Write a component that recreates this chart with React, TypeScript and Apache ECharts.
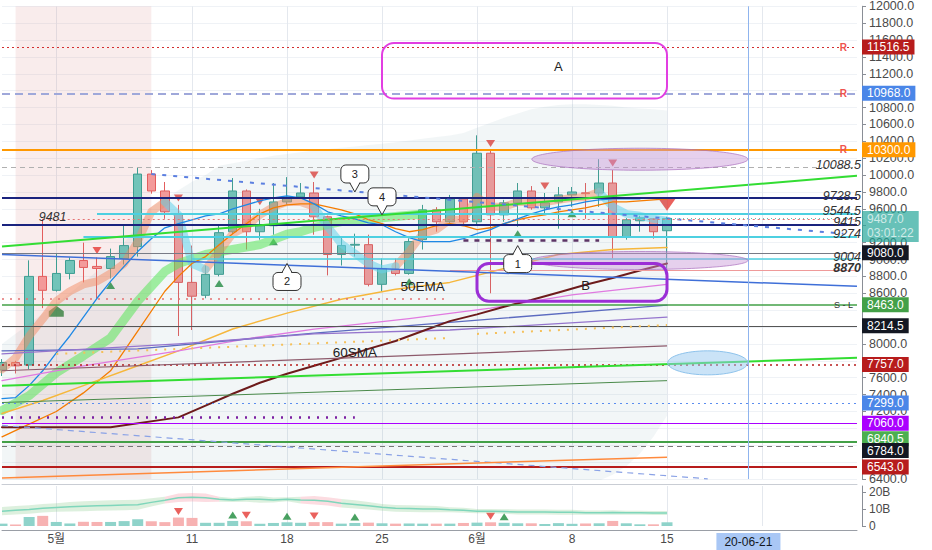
import React, { useEffect, useRef } from 'react';
import * as echarts from 'echarts';

// ---------------- data ----------------
const dayCount = 64; // 2020-04-27 .. 2020-06-29
function makeDates(): string[] {
  const out: string[] = [];
  const d = new Date(Date.UTC(2020, 3, 27));
  for (let i = 0; i < dayCount; i++) {
    out.push(d.toISOString().slice(0, 10));
    d.setUTCDate(d.getUTCDate() + 1);
  }
  return out;
}
const dates = makeDates();

const opens = [7690, 7780, 7750, 8800, 8635, 8835, 8988, 8918, 8894, 9012, 9153, 10012, 9812, 9541, 8729, 8576, 8824, 9329, 9812, 9329, 9400, 9682, 9741, 9788, 9506, 9059, 9170, 9176, 8706, 8882, 8835, 9235, 9588, 9447, 9718, 9447, 10259, 9529, 9671, 9812, 9612, 9682, 9765, 9790, 9788, 9906, 9271, 9459, 9482, 9341];
const closes = [7780, 7740, 8800, 8635, 8835, 8988, 8906, 8894, 9035, 9165, 10012, 9812, 9565, 8729, 8565, 8824, 9318, 9812, 9329, 9400, 9682, 9741, 9788, 9506, 9059, 9165, 9180, 8706, 8894, 8835, 9212, 9588, 9447, 9718, 9447, 10259, 9529, 9671, 9812, 9612, 9671, 9765, 9800, 9780, 9906, 9271, 9471, 9494, 9329, 9487];
const lows = [7620, 7650, 7700, 8424, 8620, 8765, 8729, 8529, 8776, 8941, 9035, 9780, 9482, 8094, 8165, 8541, 8800, 9300, 9118, 9235, 9294, 9650, 9720, 9294, 8812, 8929, 9035, 8682, 8624, 8812, 8820, 9118, 9329, 9430, 9420, 9420, 8600, 9447, 9388, 9590, 9529, 9365, 9624, 9482, 9624, 9012, 9235, 9329, 9247, 8894];
const highs = [7820, 7800, 8990, 9481, 9071, 9024, 9200, 9024, 9129, 9412, 10094, 10059, 9918, 9647, 9165, 8929, 9400, 9965, 9830, 9600, 9906, 9976, 9906, 9918, 9520, 9271, 9306, 9294, 9012, 9012, 9250, 9647, 9620, 9765, 9740, 10471, 10290, 9706, 9906, 9870, 9788, 9859, 9859, 9906, 10188, 10059, 9490, 9518, 9490, 9506];
const volumesB = [1.4, 0.9, 5.3, 6.0, 2.4, 1.5, 2.5, 2.4, 2.4, 2.9, 4.0, 2.8, 2.3, 5.0, 4.8, 1.9, 1.9, 3.0, 2.8, 1.3, 1.8, 2.2, 1.9, 2.3, 2.3, 1.4, 1.8, 2.0, 1.6, 1.4, 1.5, 1.4, 1.4, 1.4, 1.8, 2.0, 2.2, 1.9, 1.6, 1.6, 1.2, 1.7, 1.3, 1.5, 1.6, 3.0, 1.6, 1.0, 1.0, 2.2];

const volMA = [8.8, 9.3, 9.8, 10.5, 11, 11.4, 11.7, 12, 12.2, 12.4, 12.6, 14, 15.3, 16.7, 17, 16.7, 15.8, 15.4, 15.8, 15.8, 15.4, 15.8, 15.4, 15.3, 14.6, 13.5, 12.8, 12, 11.1, 10.5, 10.3, 10.1, 10, 9.6, 9.3, 8.8, 8.8, 8.6, 8.3, 8.3, 8.3, 8.1, 8.1, 7.9, 7.9, 8.0, 7.9, 7.9, 7.7, 7.7];
const volBandHalf = [2.5, 2.5, 2.5, 2.5, 2.5, 2.8, 3, 3, 3, 3, 3, 2.5, 2, 2.5, 2.5, 2.5, 1.5, 1.2, 1.5, 2, 1.5, 1.2, 2, 2.5, 2.5, 2.5, 2.5, 2.2, 2, 2, 2, 2, 1.8, 1.5, 1.5, 1.3, 1.3, 1.3, 1.5, 1.5, 1.5, 1.5, 1.5, 1.3, 1.3, 1.3, 1.2, 1.2, 1.2, 1.2];
const volPinkRanges = [[12, 16], [22, 25]];

const cloudUpper = [8000, 8120, 8240, 8360, 8480, 8600, 8730, 8860, 9000, 9200, 9400, 9620, 9720, 9820, 9920, 10000, 10110, 10140, 10170, 10200, 10230, 10250, 10270, 10290, 10310, 10325, 10340, 10355, 10370, 10390, 10410, 10430, 10450, 10470, 10500, 10560, 10620, 10680, 10730, 10780, 10810, 10830, 10840, 10840, 10830, 10820, 10800, 10790, 10780, 10765];
const cloudLower = [6000, 6000, 6000, 6000, 6000, 6000, 6000, 6000, 6000, 6000, 6000, 6000, 6000, 6000, 6000, 6000, 6000, 6000, 6000, 6000, 6000, 6000, 6000, 6000, 6000, 6000, 6000, 6000, 6000, 6000, 6000, 6000, 6000, 6000, 6000, 6000, 6000, 6000, 6000, 6000, 6000, 6000, 6000, 6000, 6380, 6450, 6550, 6700, 6900, 7150];

const fastRibbon = [7700, 7835, 8094, 8294, 8506, 8624, 8706, 8741, 8835, 8953, 9212, 9565, 9682, 9529, 8950, 8882, 9094, 9306, 9388, 9529, 9624, 9682, 9682, 9624, 9388, 9188, 9071, 8953, 8882, 8918, 9094, 9306, 9353, 9471, 9471, 9741, 9624, 9624, 9682, 9682, 9682, 9706, 9730, 9741, 9800, 9624, 9541, 9518, 9482, 9460];
const fastDownRanges = [[12, 15], [23, 29], [44, 49]];

const greenRibbon = [[0, 7212], [2, 7388], [4, 7659], [6, 7859], [8, 8071], [10, 8506], [11, 8682], [12, 8859], [13, 8953], [15, 9060], [17, 9120], [19, 9176], [21, 9300], [22, 9330], [23, 9380], [25, 9450], [27, 9480], [29, 9510], [31, 9540]];
const emaBlue = [[0, 7353], [1, 7365], [2, 7506], [3, 7682], [4, 7894], [5, 8094], [6, 8318], [7, 8541], [8, 8741], [9, 8918], [10, 9094], [11, 9247], [12, 9376], [13, 9424], [14, 9470], [15, 9518], [16, 9541], [17, 9600], [18, 9647], [19, 9694], [20, 9730], [21, 9753], [22, 9730], [23, 9659], [24, 9565], [25, 9518], [26, 9482], [27, 9435], [28, 9412], [29, 9329], [30, 9259], [31, 9212], [32, 9212], [33, 9212], [34, 9247], [35, 9306], [36, 9353], [37, 9424], [38, 9482], [39, 9541], [40, 9588], [41, 9624], [42, 9647], [43, 9682], [44, 9706], [45, 9718], [46, 9718], [47, 9718]];
const emaOrange = [[0, 6900], [2, 7050], [4, 7200], [6, 7420], [8, 7682], [10, 8153], [12, 8624], [13, 8800], [14, 8953], [15, 9035], [16, 9176], [17, 9306], [18, 9424], [19, 9541], [20, 9612], [21, 9647], [22, 9659], [23, 9659], [24, 9624], [25, 9588], [26, 9541], [27, 9471], [28, 9424], [29, 9365], [30, 9329], [31, 9353], [32, 9400], [33, 9424], [34, 9400], [35, 9353], [36, 9376], [37, 9424], [38, 9471], [39, 9506], [40, 9529], [41, 9565], [42, 9588], [43, 9612], [44, 9647], [45, 9682], [46, 9682], [47, 9694], [48, 9706], [49, 9718]];
const ema50 = [[0, 7176], [3, 7329], [6, 7506], [10, 7741], [13, 7918], [17, 8176], [21, 8365], [25, 8529], [29, 8647], [33, 8729], [37, 8894], [41, 9059], [45, 9118], [49, 9141]];
const maMagenta = [[0, 7565], [6, 7740], [13, 7918], [18, 8060], [23, 8176], [30, 8300], [36, 8424], [42, 8580], [49, 8706]];
const maBluePurple = [[0, 7918], [10, 7941], [23, 8129], [36, 8294], [49, 8459]];
const maViolet = [[0, 7882], [13, 8000], [23, 8118], [33, 8165], [49, 8318]];
const sma60 = [[0, 7012], [8, 7012], [13, 7130], [15, 7270], [17, 7410], [19, 7540], [21, 7647], [23, 7741], [25, 7835], [27, 7941], [29, 8035], [31, 8153], [33, 8270], [35, 8350], [37, 8440], [39, 8520], [41, 8610], [43, 8700], [45, 8780], [47, 8870], [49, 8953]];

const sellSignals = [7, 13, 19, 23, 36, 40, 45, 49];
const buySignals = [8, 16, 20, 30, 38, 42];
const volSellSignals = [13, 18, 23, 36];
const volBuySignals = [17, 21, 26, 37];
const pentagonMark = [4, 8388];

const boxLevels = [11516.5, 10968, 10300, 9080, 8463, 8214.5, 7757, 7299, 7060, 6840.5, 6784, 6543];
const noteLevels = [10088.5, 9728.5, 9544.5, 9415, 9274, 9004, 8870];
const noteStarts = [0, 0, 7, 0, 6, 14, 33];
const lastPrice = 9487;
const countdown = '03:01:22';
const highMark = [3, 9481];
const resistanceLevels = [11516.5, 10968, 10300];
const stopLevel = 8463;

const trendLines = [
  [[0, 9153], [63, 9991]],
  [[0, 7506], [63, 7835]],
  [[0, 9059], [63, 8682]],
  [[11, 10012], [62, 9306]],
  [[0, 7035], [52, 6402]],
  [[0, 7306], [49, 7565]],
  [[0, 6412], [49, 6659]],
  [[0, 7682], [49, 7976]],
  [[4, 7882], [33, 8071]],
  [[35, 8118], [49, 8224]],
  [[0, 8541], [33, 8541]],
  [[0, 7130], [26, 7130]],
  [[34, 9224], [44, 9224]],
];

const tickDates = ['2020-05-01', '2020-05-11', '2020-05-18', '2020-05-25', '2020-06-01', '2020-06-08', '2020-06-15', '2020-06-21'];
const tickTexts = ['5월', '11', '18', '25', '6월', '8', '15', '20-06-21'];
const highlightDate = '2020-06-21';
const gridDates = ['2020-05-01', '2020-05-11', '2020-05-18', '2020-05-25', '2020-06-01', '2020-06-08', '2020-06-15', '2020-06-22'];
const shadeRange = [1, 11];
const cursorIndex = 55;

// annotation anchors (category index, price)
const boxA = [[27.8, 11565], [49, 10906]];
const boxB = [[35, 8953], [49, 8506]];
const labelA = [40.5, 11282];
const labelB = [42.6, 8694];
const ellipseCenters = [[47, 10188], [47, 8988], [52, 7776]];
const calloutTips = [[26, 9800], [27.9, 9529], [21, 8953], [37.9, 9165]];
const calloutDirs = ['down', 'down', 'up', 'up'];
const calloutTexts = ['3', '4', '2', '1'];
const noteTextAnchors = [[31.2, 8682], [25.6, 7894]];
const noteTextLabels = ['50EMA', '60SMA'];

// ---------------- styles ----------------
const FONT = "'Liberation Sans', 'Noto Sans', 'Noto Sans CJK KR', Arial, sans-serif";
const boxColors = ['#b71c1c', '#4a86e8', '#ff9800', '#131722', '#43a047', '#131722', '#b71c1c', '#4a86e8', '#aa00ff', '#4caf50', '#131722', '#b71c1c'];
const boxOffsets = [0, 0, 0, 0, 0, 0, 0, 0, 0, -3, 4, 0];
const boxLineStyles: any[] = [
  { color: '#d32f2f', type: [2, 3], width: 1 },
  { color: '#9fa8da', type: [8, 5], width: 2 },
  { color: '#ff9800', type: 'solid', width: 2 },
  { color: '#787b86', type: 'solid', width: 1 },
  { color: '#43a047', type: 'solid', width: 1.5 },
  { color: '#555', type: 'solid', width: 1 },
  { color: '#b71c1c', type: [2, 4], width: 1.5 },
  { color: '#5b8def', type: [2, 4], width: 1.2 },
  { color: '#aa00ff', type: 'solid', width: 1.2 },
  { color: '#43a047', type: 'solid', width: 2 },
  { color: '#777', type: [5, 4], width: 1 },
  { color: '#b71c1c', type: 'solid', width: 2 },
];
const noteLineStyles: any[] = [
  { color: '#b0b0b0', type: [5, 4], width: 1 },
  { color: '#1a237e', type: 'solid', width: 2 },
  { color: '#4dd0e1', type: 'solid', width: 2 },
  { color: '#1a237e', type: 'solid', width: 2 },
  { color: '#4dd0e1', type: 'solid', width: 2 },
  { color: '#4dd0e1', type: 'solid', width: 1.5 },
  { color: '#ef9a9a', type: 'solid', width: 1 },
];
const trendStyles: any[] = [
  { color: '#33dd33', width: 2, type: 'solid' },
  { color: '#33dd33', width: 2, type: 'solid' },
  { color: '#3f6fd8', width: 1.5, type: 'solid' },
  { color: '#5b7fe0', width: 2, type: [4, 7] },
  { color: '#8aa2e6', width: 1.2, type: [6, 5] },
  { color: '#4a8a4a', width: 1, type: 'solid' },
  { color: '#ff8a3d', width: 1.5, type: 'solid' },
  { color: '#8d5a6b', width: 1.2, type: 'solid' },
  { color: '#f5c05a', width: 2, type: [2, 7] },
  { color: '#f5c05a', width: 2, type: [2, 7] },
  { color: '#e57373', width: 1.5, type: [2, 6] },
  { color: '#7b1fa2', width: 2.5, type: [2, 7] },
  { color: '#5c3566', width: 2.5, type: [5, 6] },
];

function inRanges(i: number, ranges: number[][], inclusive: boolean) {
  return ranges.some(([a, b]) => (inclusive ? i >= a && i <= b : i > a && i < b));
}

// price-axis labels that sit (mostly) under a price box are not drawn (as in the reference)
function priceLabel(v: number) {
  const covered = boxLevels.some((b) => Math.abs(b - v) < 66) || (v < lastPrice && v > lastPrice - 200);
  return covered ? '' : v.toFixed(1);
}

function buildOption(): any {
  const candles = opens.map((o, i) => [o, closes[i], lows[i], highs[i]]);
  const cloudBand = cloudUpper.map((u, i) => u - cloudLower[i]);
  const fastUp = fastRibbon.map((v, i) => (inRanges(i, fastDownRanges, false) ? '-' : v));
  const fastDown = fastRibbon.map((v, i) => (inRanges(i, fastDownRanges, true) ? v : '-'));
  const vLow = volMA.map((m, i) => (m - volBandHalf[i]) * 1e9);
  const vWidth = volBandHalf.map((h) => 2 * h * 1e9);
  const gLow = vLow.map((v, i) => (inRanges(i, volPinkRanges, false) ? '-' : v));
  const gWidth = vWidth.map((v, i) => (inRanges(i, volPinkRanges, false) ? '-' : v));
  const pLow = vLow.map((v, i) => (inRanges(i, volPinkRanges, true) ? v : '-'));
  const pWidth = vWidth.map((v, i) => (inRanges(i, volPinkRanges, true) ? v : '-'));

  const mlData: any[] = [];
  boxLevels.forEach((v, k) => {
    mlData.push({
      yAxis: v,
      lineStyle: boxLineStyles[k],
      label: {
        show: true, position: 'end', formatter: v.toFixed(1), backgroundColor: boxColors[k],
        color: '#fff', padding: [2, 5, 1, 5], fontSize: 12, distance: 5, offset: [0, boxOffsets[k]], fontFamily: FONT,
      },
    });
  });
  noteLevels.forEach((v, k) => {
    mlData.push([
      {
        coord: [noteStarts[k], v],
        lineStyle: noteLineStyles[k],
        label: {
          show: true, position: 'insideEndTop', formatter: String(v), color: '#333',
          fontStyle: 'italic', fontWeight: v === 8870 ? 'bold' : 'normal', fontSize: 12.5,
          distance: -4, fontFamily: FONT,
        },
      },
      { coord: [63, v] },
    ]);
  });
  trendLines.forEach((ln, k) => {
    mlData.push([{ coord: ln[0], lineStyle: trendStyles[k], label: { show: false } }, { coord: ln[1] }]);
  });
  mlData.push([
    {
      coord: [highMark[0], highMark[1]],
      lineStyle: { color: '#e57373', type: [2, 3], width: 1 },
      label: { show: true, position: 'insideStartTop', formatter: String(highMark[1]), color: '#333', fontStyle: 'italic', fontSize: 12.5, distance: -4, fontFamily: FONT },
    },
    { coord: [63, highMark[1]] },
  ]);
  mlData.push({ xAxis: cursorIndex, lineStyle: { color: '#8fb4ee', width: 1, type: 'solid' }, label: { show: false } });
  mlData.push([
    {
      coord: [49, lastPrice],
      lineStyle: { color: '#26a69a', type: [1, 3], width: 1, opacity: 0.7 },
      label: {
        show: true, position: 'end', formatter: lastPrice.toFixed(1) + '\n' + countdown, backgroundColor: '#26a69a',
        color: '#fff', padding: [2, 5, 1, 5], lineHeight: 14, fontSize: 12, distance: 5, offset: [0, 8], fontFamily: FONT,
      },
    },
    { coord: [63, lastPrice] },
  ]);

  const mpData: any[] = resistanceLevels.map((v) => ({
    coord: [62, v], symbolSize: 0,
    label: { show: true, formatter: 'R', color: '#ef5350', fontSize: 10, fontWeight: 'bold', fontFamily: FONT },
  }));
  mpData.push({
    coord: [62, stopLevel], symbolSize: 0,
    label: { show: true, formatter: 'S - L', color: '#333', fontSize: 9, fontFamily: FONT },
  });

  const lineSeries = (data: any[], color: string, width: number, extra: any = {}) => ({
    type: 'line', xAxisIndex: 0, yAxisIndex: 0, data, symbol: 'none', silent: true,
    lineStyle: { color, width, cap: 'round', join: 'round' }, ...extra,
  });

  return {
    animation: false,
    backgroundColor: '#ffffff',
    textStyle: { fontFamily: FONT },
    grid: [
      { left: 2, right: 75, top: 3, height: 476 },
      { left: 2, right: 75, top: 486, height: 45 },
    ],
    xAxis: [
      {
        type: 'category', gridIndex: 0, data: dates, boundaryGap: false, offset: 5,
        axisLine: { show: true, onZero: false, lineStyle: { color: '#c9cdd4' } },
        axisTick: { show: false }, axisLabel: { show: false },
        splitLine: { show: true, interval: (i: number, v: string) => gridDates.includes(v), lineStyle: { color: '#e4e8ee' } },
      },
      {
        type: 'category', gridIndex: 1, data: dates, boundaryGap: false, offset: 4,
        axisLine: { show: true, onZero: false, lineStyle: { color: '#9a9ea6' } },
        axisTick: { show: false },
        axisLabel: {
          interval: (i: number, v: string) => tickDates.includes(v),
          formatter: (v: string) => {
            const k = tickDates.indexOf(v);
            if (k < 0) return '';
            return v === highlightDate ? '{hl|' + tickTexts[k] + '}' : tickTexts[k];
          },
          color: '#4a4a4a', fontSize: 12, margin: 3, fontFamily: FONT,
          rich: { hl: { backgroundColor: '#a9c7f5', color: '#131722', padding: [3, 8, 2, 8], fontSize: 12, fontFamily: FONT } },
        },
        splitLine: { show: true, interval: (i: number, v: string) => gridDates.includes(v), lineStyle: { color: '#e4e8ee' } },
      },
    ],
    yAxis: [
      {
        type: 'value', gridIndex: 0, position: 'right', offset: 5, min: 6400, max: 12000, interval: 200,
        axisLine: { show: true, lineStyle: { color: '#8a8e96' } },
        axisTick: { show: true, length: 4, lineStyle: { color: '#8a8e96' } },
        axisLabel: { formatter: priceLabel, color: '#4a4a4a', fontSize: 12.5, margin: 7, fontFamily: FONT },
        splitLine: { show: true, lineStyle: { color: '#eff2f6' } },
      },
      {
        type: 'value', gridIndex: 1, position: 'right', offset: 5, min: 0, max: 23.7e9, interval: 10e9,
        axisLine: { show: true, lineStyle: { color: '#8a8e96' } },
        axisTick: { show: true, length: 4, lineStyle: { color: '#8a8e96' } },
        axisLabel: { formatter: (v: number) => (v === 0 ? '0' : v / 1e9 + 'B'), color: '#4a4a4a', fontSize: 12, margin: 7, showMaxLabel: false, fontFamily: FONT },
        splitLine: { show: false },
      },
    ],
    series: [
      lineSeries(cloudLower, 'transparent', 0, { stack: 'cloud', lineStyle: { opacity: 0 } }),
      lineSeries(cloudBand, 'transparent', 0, { stack: 'cloud', lineStyle: { opacity: 0 }, areaStyle: { color: 'rgba(110,160,170,0.13)' } }),
      lineSeries(greenRibbon, 'rgba(90,230,90,0.55)', 9),
      lineSeries(fastUp, 'rgba(244,140,100,0.5)', 8),
      lineSeries(fastDown, 'rgba(100,210,235,0.55)', 8),
      lineSeries(emaOrange, '#f57c00', 1.3),
      lineSeries(emaBlue, '#1e88e5', 1.3),
      lineSeries(ema50, '#f6b73c', 1.5),
      lineSeries(maMagenta, '#e07ae0', 1.3),
      lineSeries(maBluePurple, '#5c6bc0', 1.3),
      lineSeries(maViolet, '#9575cd', 1.3),
      lineSeries(sma60, '#6d1b1b', 2),
      {
        type: 'candlestick', name: 'price', xAxisIndex: 0, yAxisIndex: 0, data: candles, barWidth: 9,
        itemStyle: { color: '#72c4b9', color0: '#f39a9a', borderColor: '#3e9e92', borderColor0: '#e35d5d', borderWidth: 1 },
        markArea: { silent: true, itemStyle: { color: 'rgba(222,140,140,0.17)' }, data: [[{ xAxis: shadeRange[0] }, { xAxis: shadeRange[1] }]] },
        markLine: { silent: true, symbol: ['none', 'none'], precision: 1, data: mlData },
        markPoint: { silent: true, symbol: 'circle', data: mpData },
      },
      {
        type: 'scatter', xAxisIndex: 0, yAxisIndex: 0, silent: true, symbol: 'triangle', symbolRotate: 180,
        symbolSize: [9, 7], symbolOffset: [0, -7], itemStyle: { color: '#e53935' },
        data: sellSignals.map((i) => (i === 49 ? { value: [i, highs[i]], symbolSize: [17, 12], symbolOffset: [0, -12] } : [i, highs[i]])),
      },
      {
        type: 'scatter', xAxisIndex: 0, yAxisIndex: 0, silent: true, symbol: 'triangle',
        symbolSize: [9, 7], symbolOffset: [0, 7], itemStyle: { color: '#1b8a3a' },
        data: buySignals.map((i) => [i, lows[i]]),
      },
      {
        type: 'scatter', xAxisIndex: 0, yAxisIndex: 0, silent: true, symbol: 'path://M0,6 L6,0 L12,6 L12,12 L0,12 Z',
        symbolSize: [15, 11], itemStyle: { color: '#2e7d32' }, data: [pentagonMark],
      },
      {
        type: 'bar', xAxisIndex: 1, yAxisIndex: 1, barWidth: 11, silent: true,
        data: volumesB.map((v, i) => ({ value: v * 1e9, itemStyle: { color: closes[i] >= opens[i] ? '#8fd3ca' : '#f7b2b2' } })),
      },
      { type: 'line', xAxisIndex: 1, yAxisIndex: 1, stack: 'vg', data: gLow, symbol: 'none', silent: true, lineStyle: { opacity: 0 } },
      { type: 'line', xAxisIndex: 1, yAxisIndex: 1, stack: 'vg', data: gWidth, symbol: 'none', silent: true, lineStyle: { opacity: 0 }, areaStyle: { color: 'rgba(129,199,132,0.38)' } },
      { type: 'line', xAxisIndex: 1, yAxisIndex: 1, stack: 'vp', data: pLow, symbol: 'none', silent: true, lineStyle: { opacity: 0 } },
      { type: 'line', xAxisIndex: 1, yAxisIndex: 1, stack: 'vp', data: pWidth, symbol: 'none', silent: true, lineStyle: { opacity: 0 }, areaStyle: { color: 'rgba(244,143,160,0.45)' } },
      { type: 'line', xAxisIndex: 1, yAxisIndex: 1, data: volMA.map((v) => v * 1e9), symbol: 'none', silent: true, lineStyle: { color: '#7fd6bb', width: 1.5 } },
      {
        type: 'scatter', xAxisIndex: 1, yAxisIndex: 1, silent: true, symbol: 'triangle', symbolRotate: 180,
        symbolSize: [9, 7], symbolOffset: [0, -6], itemStyle: { color: '#e53935' },
        data: volSellSignals.map((i) => [i, volumesB[i] * 1e9]),
      },
      {
        type: 'scatter', xAxisIndex: 1, yAxisIndex: 1, silent: true, symbol: 'triangle',
        symbolSize: [9, 7], symbolOffset: [0, -6], itemStyle: { color: '#1b8a3a' },
        data: volBuySignals.map((i) => [i, volumesB[i] * 1e9]),
      },
    ],
  };
}

function buildGraphics(px: (i: number, v: number) => number[]): any[] {
  const g: any[] = [];
  const textStyle = (text: string, size: number) => ({
    text, fill: '#222', font: `${size}px ${FONT}`, textAlign: 'center', textVerticalAlign: 'middle',
  });
  const ellStyles = [
    { r: [108, 11], fill: 'rgba(200,150,215,0.45)', stroke: 'rgba(170,110,190,0.7)' },
    { r: [108, 9], fill: 'rgba(200,150,215,0.45)', stroke: 'rgba(170,110,190,0.7)' },
    { r: [40, 12], fill: 'rgba(150,200,240,0.5)', stroke: '#8ec3ec' },
  ];
  ellipseCenters.forEach((c, k) => {
    const p = px(c[0], c[1]);
    g.push({
      type: 'ellipse', z: 100, silent: true,
      shape: { cx: p[0], cy: p[1], rx: ellStyles[k].r[0], ry: ellStyles[k].r[1] },
      style: { fill: ellStyles[k].fill, stroke: ellStyles[k].stroke, lineWidth: 1 },
    });
  });
  const a1 = px(boxA[0][0], boxA[0][1]);
  const a2 = px(boxA[1][0], boxA[1][1]);
  g.push({ type: 'rect', z: 101, silent: true, shape: { x: a1[0], y: a1[1], width: a2[0] - a1[0], height: a2[1] - a1[1], r: 12 }, style: { fill: 'none', stroke: '#e23ee2', lineWidth: 2 } });
  const la = px(labelA[0], labelA[1]);
  g.push({ type: 'text', z: 102, silent: true, x: la[0], y: la[1], style: textStyle('A', 13) });
  const b1 = px(boxB[0][0], boxB[0][1]);
  const b2 = px(boxB[1][0], boxB[1][1]);
  g.push({ type: 'rect', z: 101, silent: true, shape: { x: b1[0], y: b1[1], width: b2[0] - b1[0], height: b2[1] - b1[1], r: 12 }, style: { fill: 'none', stroke: '#9b2fd6', lineWidth: 3 } });
  const lb = px(labelB[0], labelB[1]);
  g.push({ type: 'text', z: 102, silent: true, x: lb[0], y: lb[1], style: textStyle('B', 13) });
  calloutTips.forEach((t, k) => {
    const tip = px(t[0], t[1]);
    const w = 28, h = 18, gap = 9;
    const down = calloutDirs[k] === 'down';
    const baseY = down ? tip[1] - gap : tip[1] + gap;
    const boxY = down ? baseY - h : baseY;
    const cx = tip[0];
    const inset = down ? -1.5 : 1.5;
    g.push({ type: 'rect', z: 103, silent: true, shape: { x: cx - w / 2, y: boxY, width: w, height: h, r: 5 }, style: { fill: '#fff', stroke: '#333', lineWidth: 1 } });
    g.push({ type: 'polygon', z: 104, silent: true, shape: { points: [[cx - 5, baseY + inset], [cx, tip[1]], [cx + 5, baseY + inset]] }, style: { fill: '#fff' } });
    g.push({ type: 'polyline', z: 105, silent: true, shape: { points: [[cx - 5, baseY], [cx, tip[1]], [cx + 5, baseY]] }, style: { fill: 'none', stroke: '#333', lineWidth: 1 } });
    g.push({ type: 'text', z: 106, silent: true, x: cx, y: boxY + h / 2, style: textStyle(calloutTexts[k], 11) });
  });
  noteTextAnchors.forEach((a, k) => {
    const p = px(a[0], a[1]);
    g.push({ type: 'text', z: 102, silent: true, x: p[0], y: p[1], style: textStyle(noteTextLabels[k], 13.5) });
  });
  return g;
}

export default function App() {
  const ref = useRef<HTMLDivElement>(null);
  useEffect(() => {
    if (!ref.current) return;
    const chart = echarts.init(ref.current, null, { renderer: 'svg' });
    chart.setOption(buildOption());
    const px = (i: number, v: number) => chart.convertToPixel({ gridIndex: 0 }, [i, v]) as number[];
    chart.setOption({ graphic: buildGraphics(px) });
    return () => chart.dispose();
  }, []);
  return (
    <div
      ref={ref}
      style={{ position: 'fixed', left: 0, top: 0, width: 932, height: 550, background: '#fff' }}
    />
  );
}
